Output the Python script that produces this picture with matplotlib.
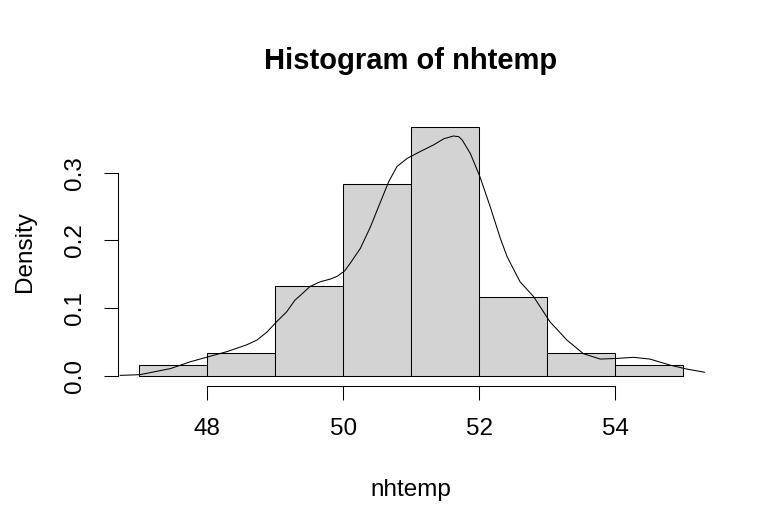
import numpy as np
import matplotlib.pyplot as plt

plt.rcParams['font.family'] = ['Liberation Sans', 'DejaVu Sans']

# histogram of nhtemp (density scale)
bin_edges = [47, 48, 49, 50, 51, 52, 53, 54, 55]
counts = [1, 2, 8, 17, 22, 7, 2, 1]
n_obs = 60

# density curve
dens_x = [46.72, 47.01, 47.46, 47.75, 48.0, 48.29, 48.58, 48.73, 48.88, 49.01,
          49.17, 49.29, 49.37, 49.51, 49.66, 49.81, 49.91, 50.02, 50.10, 50.25,
          50.40, 50.54, 50.67, 50.79, 50.94, 51.13, 51.33, 51.48, 51.62, 51.70,
          51.75, 51.87, 52.01, 52.16, 52.31, 52.41, 52.60, 52.80, 53.04, 53.29,
          53.53, 53.78, 54.03, 54.27, 54.51, 54.81, 55.05, 55.32]
dens_y = [0.001, 0.002, 0.011, 0.021, 0.028, 0.036, 0.046, 0.053, 0.065, 0.079,
          0.095, 0.112, 0.119, 0.132, 0.139, 0.143, 0.147, 0.155, 0.166, 0.188,
          0.220, 0.255, 0.287, 0.309, 0.321, 0.331, 0.341, 0.350, 0.354, 0.353,
          0.348, 0.328, 0.294, 0.250, 0.203, 0.176, 0.139, 0.117, 0.080, 0.053,
          0.033, 0.025, 0.026, 0.0276, 0.025, 0.016, 0.0103, 0.0055]

xticks = [48, 50, 52, 54]
yticks = [0.0, 0.1, 0.2, 0.3]

dens = np.array(counts) / n_obs / np.diff(bin_edges)

fig = plt.figure(figsize=(7.65, 5.32), dpi=100)
ax = fig.add_axes([117.5 / 765, 146 / 532, (705 - 117.5) / 765, (386 - 117.5) / 532])

ax.bar(bin_edges[:-1], dens, width=np.diff(bin_edges), align='edge',
       color='#D3D3D3', edgecolor='black', linewidth=0.75)
ax.plot(dens_x, dens_y, color='black', linewidth=0.75)

ax.set_xlim(46.68, 55.32)
ax.set_ylim(-0.0147, 0.3813)

for s in ['top', 'right']:
    ax.spines[s].set_visible(False)
ax.spines['left'].set_bounds(0, 0.3)
ax.spines['bottom'].set_bounds(48, 54)
for s in ['left', 'bottom']:
    ax.spines[s].set_linewidth(0.75)

ax.set_xticks(xticks)
ax.set_xticklabels([str(t) for t in xticks])
ax.set_yticks(yticks)
ax.set_yticklabels(['0.0', '0.1', '0.2', '0.3'], rotation=90, va='center')
ax.tick_params(length=10, width=0.75, labelsize=17.5, pad=13)

ax.set_xlabel('nhtemp', fontsize=17.5, labelpad=28)
ax.set_ylabel('Density', fontsize=17.5, labelpad=20)
fig.text(411 / 765, 1 - 61 / 532, 'Histogram of nhtemp', ha='center', va='center',
         fontsize=21, fontweight='bold')

fig.savefig('out.png', dpi=100)
